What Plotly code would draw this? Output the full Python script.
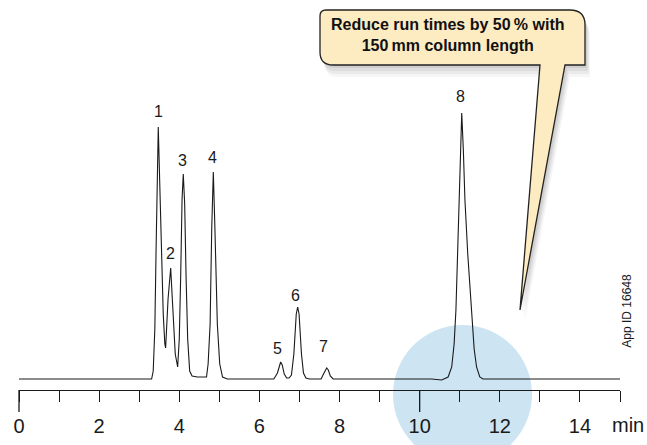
import plotly.graph_objects as go

# ---------------- data ----------------
# chromatogram trace: retention time (min) and detector signal (arbitrary units)
time_min = [
    0.00, 3.31, 3.35, 3.39, 3.42, 3.45, 3.476, 3.51, 3.55, 3.60, 3.64,
    3.66, 3.72, 3.786, 3.84, 3.90,
    3.96, 4.00, 4.035, 4.07, 4.10, 4.135, 4.17, 4.21, 4.26, 4.32, 4.45, 4.62,
    4.68, 4.72, 4.77, 4.81, 4.85, 4.89, 4.95, 5.01, 5.08, 5.20,
    6.36, 6.45, 6.50, 6.53, 6.57, 6.62, 6.68, 6.74,
    6.80, 6.86, 6.92, 6.955, 6.99, 7.05, 7.10, 7.16, 7.25,
    7.54, 7.60, 7.65, 7.68, 7.72, 7.77, 7.84,
    10.30, 10.55, 10.71, 10.80, 10.86, 10.905, 10.95, 10.99, 11.01, 11.05,
    11.09, 11.13, 11.20, 11.30, 11.36, 11.42, 11.50, 11.58, 15.00,
]
signal = [
    0, 0, 8, 50, 126, 210, 252, 200, 126, 65, 35,
    31, 80, 111, 70, 25,
    12, 40, 102, 180, 205, 175, 102, 40, 8, 3, 2, 2,
    2, 15, 55, 150, 207, 150, 55, 15, 2, 0,
    0, 6, 15, 17, 14, 5, 1, 1,
    4, 25, 65, 72, 65, 25, 6, 1, 0,
    0, 5, 10, 11, 9, 3, 0,
    0, -1, 2, 12, 35, 69, 130, 179, 229, 266,
    229, 179, 125, 69, 30, 12, 2, 0, 0,
]

peak_names = ["1", "2", "3", "4", "5", "6", "7", "8"]
peak_rt = [3.476, 3.786, 4.10, 4.85, 6.53, 6.955, 7.68, 11.05]
peak_height = [252, 111, 205, 207, 17, 72, 11, 266]

tick_values = list(range(0, 16))
tick_labels = ["0", "", "2", "", "4", "", "6", "", "8", "", "10", "", "12", "", "14", ""]
unit_label = "min"

callout_text = "Reduce run times by 50\u2009% with<br>150\u2009mm column length"
app_id_text = "App ID 16648"

# ---------------- layout helpers (pixel -> paper) ----------------
W, H = 647, 445
ML, MR, MT, MB = 19, 27, 0, 55
PW, PH = W - ML - MR, H - MT - MB


def px(x):
    return (x - ML) / PW


def py(y):
    return (H - MB - y) / PH


def P(x, y):
    return f"{px(x):.5f},{py(y):.5f}"


FONT = "Liberation Sans, Arial, Helvetica, sans-serif"
INK = "#1a1a1a"

fig = go.Figure()
fig.add_trace(go.Scatter(
    x=time_min, y=signal, mode="lines",
    line=dict(color=INK, width=1.1),
    hoverinfo="skip", showlegend=False,
))

shapes = []
# light-blue highlight circle behind peak 8
shapes.append(dict(
    type="circle", xref="paper", yref="paper",
    x0=px(393), x1=px(532), y0=py(464), y1=py(325),
    fillcolor="#cde4f2", line=dict(width=0), layer="below",
))
# longer ticks at 0 and 10
for t in (0, 10):
    shapes.append(dict(
        type="line", xref="paper", yref="paper",
        x0=t / 15, x1=t / 15, y0=py(412), y1=py(390),
        line=dict(color=INK, width=1.3),
    ))


def callout_path(dx=0, dy=0):
    pts = [
        ("M", [(326 + dx, 10 + dy)]),
        ("L", [(570 + dx, 10 + dy)]),
        ("Q", [(585 + dx, 10 + dy), (585 + dx, 25 + dy)]),
        ("L", [(585 + dx, 65 + dy)]),
        ("L", [(565 + dx, 65 + dy)]),
        ("L", [(520 + dx, 310 + dy)]),
        ("L", [(540 + dx, 65 + dy)]),
        ("L", [(333 + dx, 65 + dy)]),
        ("Q", [(320 + dx, 65 + dy), (320 + dx, 52 + dy)]),
        ("L", [(320 + dx, 16 + dy)]),
        ("Q", [(320 + dx, 10 + dy), (326 + dx, 10 + dy)]),
    ]
    s = ""
    for cmd, pp in pts:
        s += cmd + " " + " ".join(P(a, b) for a, b in pp) + " "
    return s + "Z"


# soft drop shadow
for dx, dy, op in [(2, 3, 0.10), (3, 6, 0.09), (4, 9, 0.07), (5, 12, 0.05)]:
    shapes.append(dict(
        type="path", xref="paper", yref="paper", path=callout_path(dx, dy),
        fillcolor="#555555", opacity=op, line=dict(width=0),
    ))
shapes.append(dict(
    type="path", xref="paper", yref="paper", path=callout_path(),
    fillcolor="#fdebc2", line=dict(color="#222222", width=1.3),
))

annotations = []
label_shift = [(0, 16), (0, 15), (-1, 14), (-1, 15), (-3, 14), (-2, 12), (-3, 22), (-1, 17)]
for name, rt, h, (sx, sy) in zip(peak_names, peak_rt, peak_height, label_shift):
    annotations.append(dict(
        x=rt, y=h, xref="x", yref="y", text=name, showarrow=False,
        xanchor="center", yanchor="middle", xshift=sx, yshift=sy,
        font=dict(family=FONT, size=16, color=INK),
    ))
annotations.append(dict(
    x=px(627.5), y=py(425), xref="paper", yref="paper", text=unit_label,
    showarrow=False, xanchor="center", yanchor="middle",
    font=dict(family=FONT, size=20, color=INK),
))
annotations.append(dict(
    x=px(447), y=py(35), xref="paper", yref="paper", text=callout_text,
    showarrow=False, xanchor="center", yanchor="middle", align="center",
    font=dict(family=FONT, size=16, color="#111111", weight="bold"),
))
annotations.append(dict(
    x=px(626.7), y=py(311), xref="paper", yref="paper", text=app_id_text,
    showarrow=False, textangle=-90, xanchor="center", yanchor="middle",
    font=dict(family=FONT, size=12, color=INK),
))

fig.update_layout(
    width=W, height=H,
    margin=dict(l=ML, r=MR, t=MT, b=MB, pad=0),
    paper_bgcolor="white", plot_bgcolor="white",
    shapes=shapes, annotations=annotations, showlegend=False,
    xaxis=dict(
        range=[0, 15], showgrid=False, zeroline=False,
        showline=True, linecolor=INK, linewidth=1.3,
        ticks="outside", ticklen=11, tickwidth=1.3, tickcolor=INK,
        tickmode="array", tickvals=tick_values, ticktext=tick_labels,
        tickfont=dict(family=FONT, size=20, color=INK),
        ticklabelstandoff=7, fixedrange=True,
    ),
    yaxis=dict(range=[-11, 379], visible=False, fixedrange=True),
)

fig.write_html("out.html")
